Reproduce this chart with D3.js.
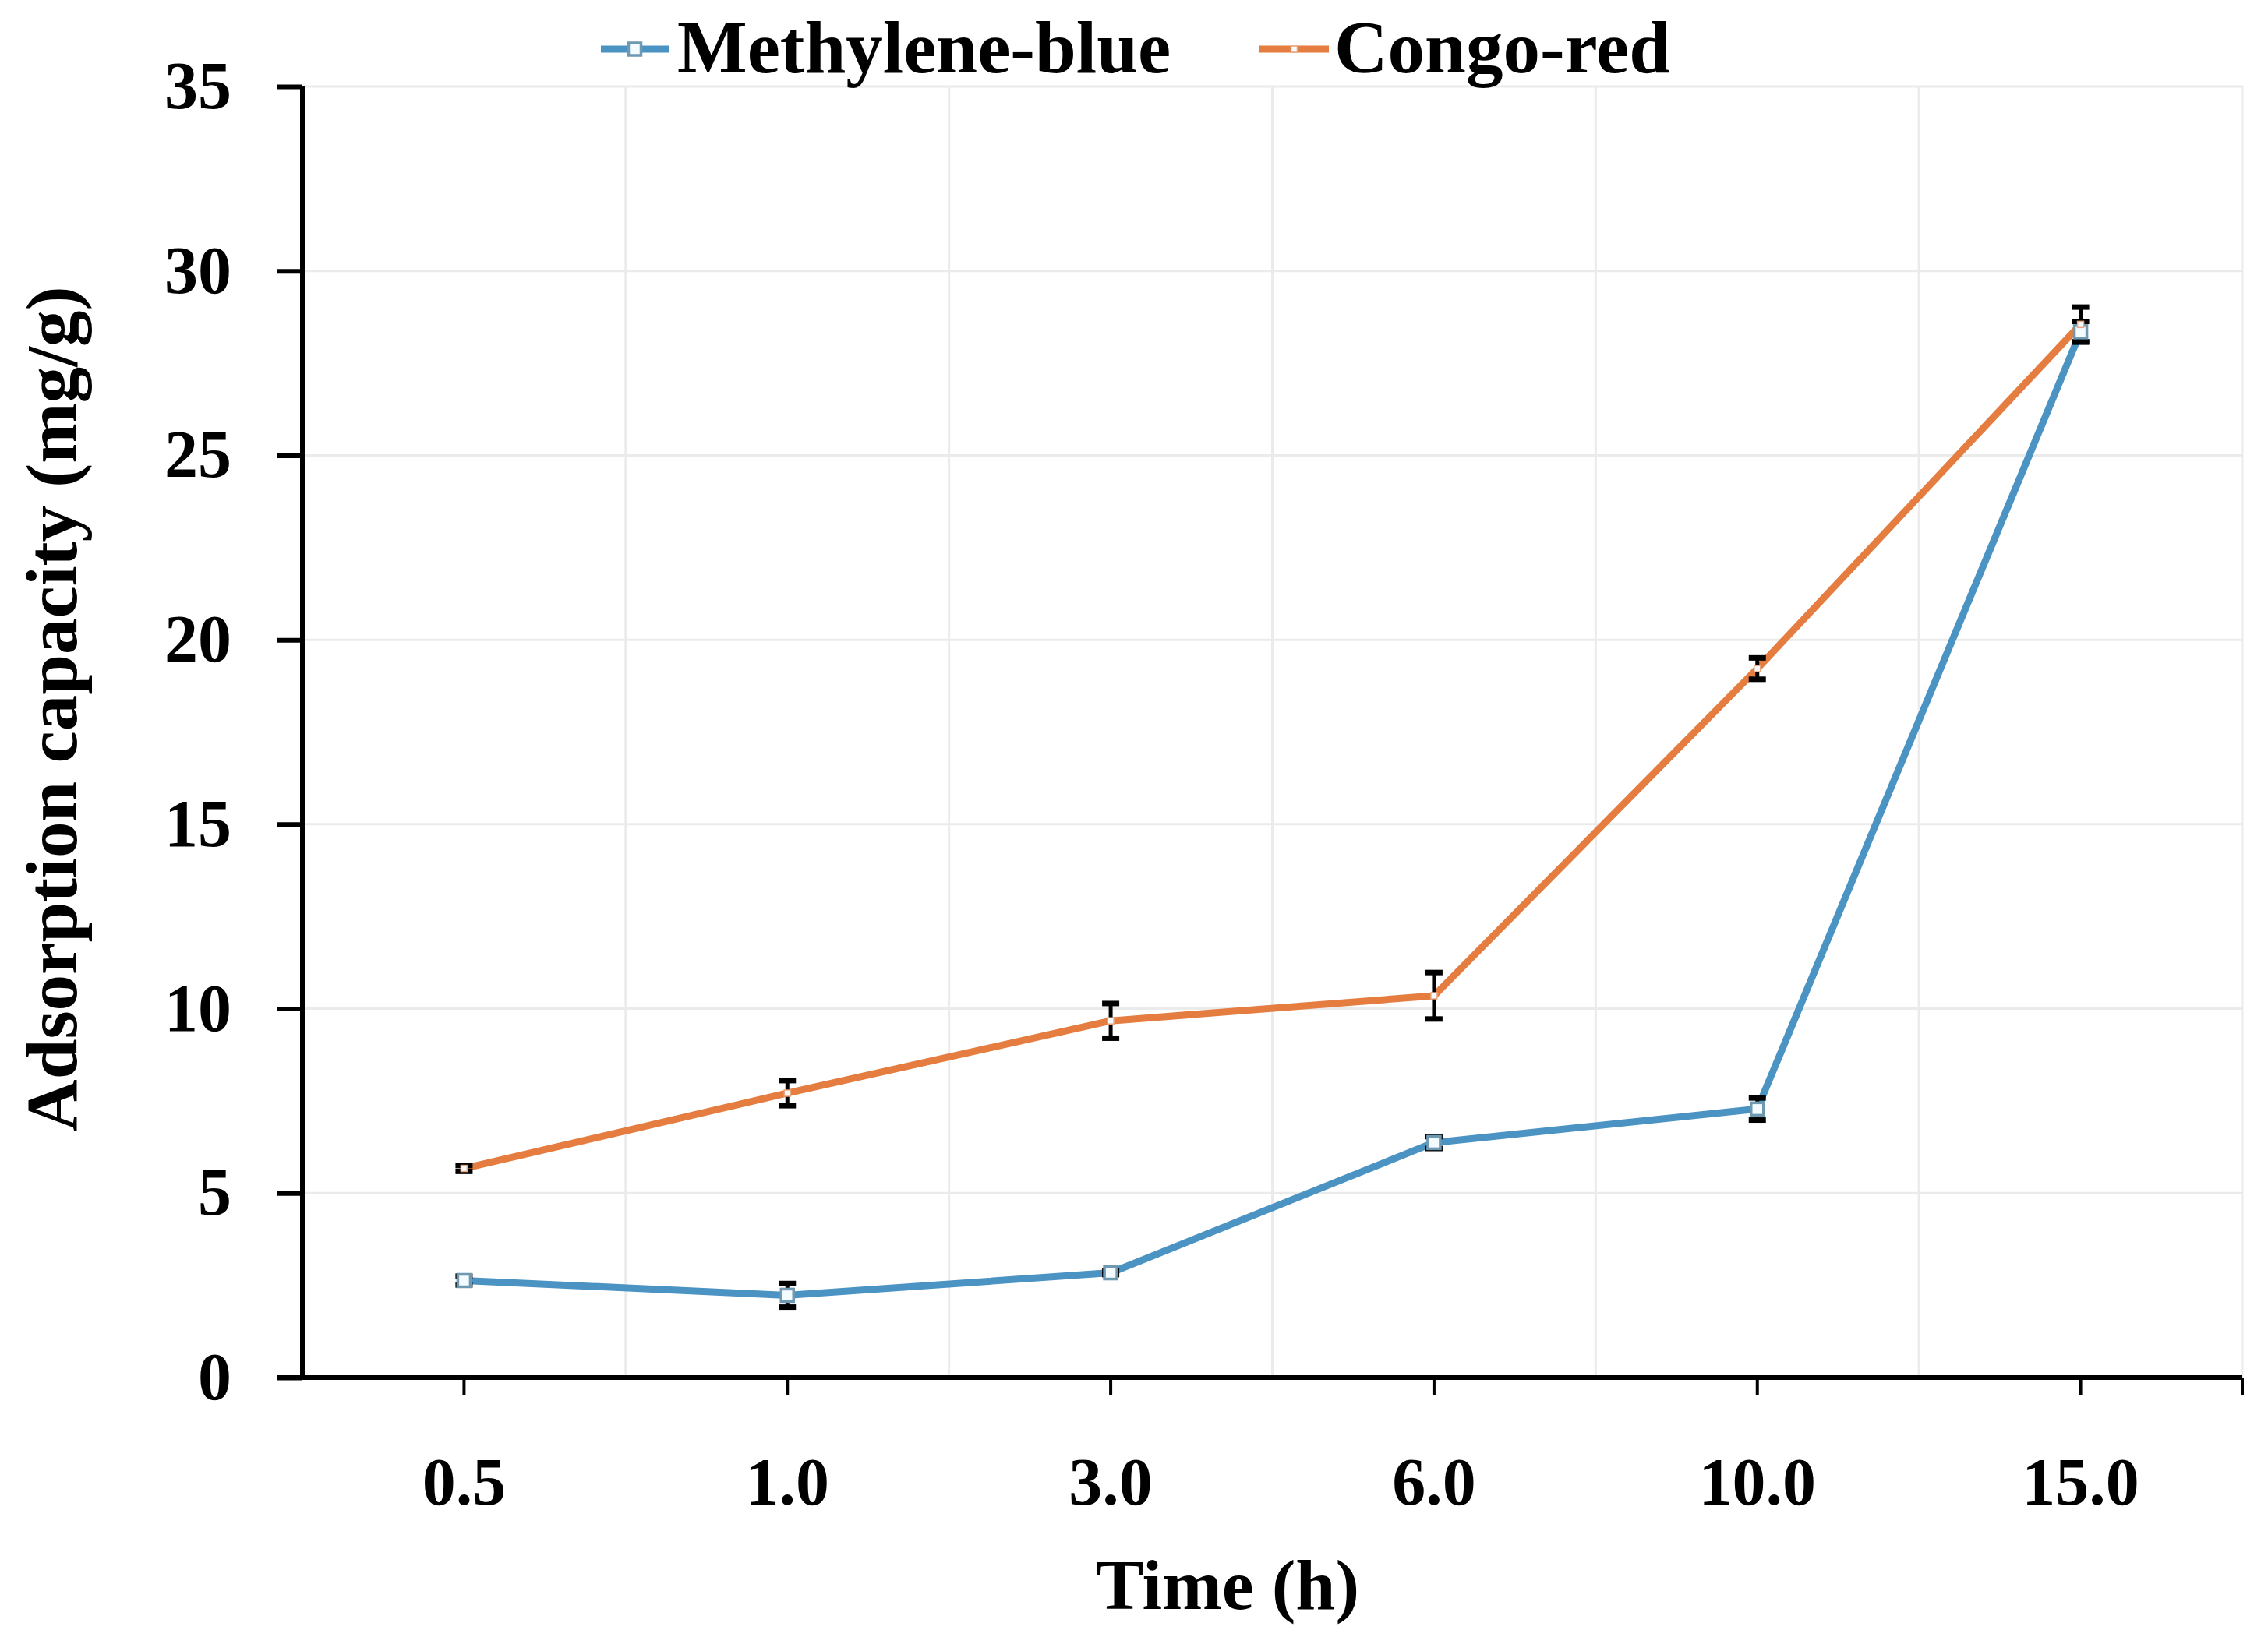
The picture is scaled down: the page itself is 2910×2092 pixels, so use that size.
<!DOCTYPE html>
<html>
<head>
<meta charset="utf-8">
<script src="https://cdn.jsdelivr.net/npm/d3@7"></script>
<style>
  html, body { margin: 0; padding: 0; background: #ffffff; }
  svg { display: block; }
  text { font-family: "Liberation Serif", "Times New Roman", serif; font-weight: bold; fill: #000; }
</style>
</head>
<body>
<svg id="chart" width="2910" height="2092"></svg>
<script>
// ---- data ----
const categories = ["0.5", "1.0", "3.0", "6.0", "10.0", "15.0"];
const seriesNames = ["Methylene-blue", "Congo-red"];
const methyleneBlue = [2.63, 2.23, 2.84, 6.37, 7.28, 28.35];
const methyleneBlueErr = [0.12, 0.32, 0.05, 0.16, 0.3, 0.28];
const congoRed = [5.67, 7.71, 9.67, 10.35, 19.22, 28.55];
const congoRedErr = [0.08, 0.34, 0.47, 0.63, 0.29, 0.47];
const yTicks = [0, 5, 10, 15, 20, 25, 30, 35];
const xTitle = "Time (h)";
const yTitle = "Adsorption capacity (mg/g)";

const colors = { "Methylene-blue": "#4a93c2", "Congo-red": "#e47d3f" };

const W = 2910, H = 2092;
const plotL = 388, plotR = 2877, plotT = 111, plotB = 1768;

const svg = d3.select("#chart");
svg.append("rect").attr("width", W).attr("height", H).attr("fill", "#fff");

const x = d3.scaleBand().domain(categories).range([plotL, plotR]).padding(0);
const y = d3.scaleLinear().domain([0, 35]).range([plotB, plotT]);
const cx = d => x(d) + x.bandwidth() / 2;

// gridlines
const grid = svg.append("g");
grid.selectAll("line.h").data(yTicks.filter(t => t > 0)).join("line")
  .attr("x1", plotL).attr("x2", plotR)
  .attr("y1", d => y(d)).attr("y2", d => y(d))
  .attr("stroke", "#ebebeb").attr("stroke-width", 3);
grid.selectAll("line.v").data(categories).join("line")
  .attr("x1", d => x(d) + x.bandwidth()).attr("x2", d => x(d) + x.bandwidth())
  .attr("y1", plotT).attr("y2", plotB)
  .attr("stroke", "#ebebeb").attr("stroke-width", 3);

// series
const series = [
  { name: seriesNames[0], values: methyleneBlue, err: methyleneBlueErr, marker: 16 },
  { name: seriesNames[1], values: congoRed, err: congoRedErr, marker: 8 }
];

const line = d3.line().x(d => cx(d.cat)).y(d => y(d.v));

series.forEach(s => {
  const pts = categories.map((c, i) => ({ cat: c, v: s.values[i], e: s.err[i] }));
  s.pts = pts;
  svg.append("path").datum(pts)
    .attr("d", line)
    .attr("fill", "none")
    .attr("stroke", colors[s.name])
    .attr("stroke-width", 9)
    .attr("stroke-linejoin", "round");
});

// error bars
series.forEach(s => {
  const g = svg.append("g");
  g.selectAll("line.stem").data(s.pts).join("line")
    .attr("x1", d => cx(d.cat)).attr("x2", d => cx(d.cat))
    .attr("y1", d => y(d.v - d.e)).attr("y2", d => y(d.v + d.e))
    .attr("stroke", "#000").attr("stroke-width", 5);
  ["top", "bot"].forEach(k => {
    g.selectAll("line.cap" + k).data(s.pts).join("line")
      .attr("x1", d => cx(d.cat) - 11).attr("x2", d => cx(d.cat) + 11)
      .attr("y1", d => y(k === "top" ? d.v + d.e : d.v - d.e))
      .attr("y2", d => y(k === "top" ? d.v + d.e : d.v - d.e))
      .attr("stroke", "#000").attr("stroke-width", 7);
  });
});

// markers
series.forEach(s => {
  svg.append("g").selectAll("rect").data(s.pts).join("rect")
    .attr("x", d => cx(d.cat) - s.marker / 2)
    .attr("y", d => y(d.v) - s.marker / 2)
    .attr("width", s.marker).attr("height", s.marker)
    .attr("fill", "#f4fbff")
    .attr("stroke", s.name === "Congo-red" ? "#eaa57c" : "#6f98b1")
    .attr("stroke-width", s.name === "Congo-red" ? 1.5 : 3.5);
});

// axes
const yAxis = d3.axisLeft(y).tickValues(yTicks).tickSize(33).tickPadding(58).tickFormat(d3.format("d"));
const gy = svg.append("g").attr("transform", `translate(${plotL},0)`).call(yAxis);
gy.select(".domain").attr("stroke", "#000").attr("stroke-width", 6).attr("d", `M0,${plotT}V${plotB}`);
gy.selectAll(".tick line").attr("stroke", "#000").attr("stroke-width", 6);
gy.selectAll(".tick text").attr("font-size", 86).attr("font-family", "Liberation Serif, serif").attr("font-weight", "bold").attr("fill", "#000");

const xAxis = d3.axisBottom(x).tickSize(22).tickPadding(80);
const gx = svg.append("g").attr("transform", `translate(0,${plotB})`).call(xAxis);
gx.select(".domain").attr("stroke", "#000").attr("stroke-width", 6).attr("d", `M${plotL - 33},0H${plotR}`);
gx.selectAll(".tick line").attr("stroke", "#000").attr("stroke-width", 4);
gx.selectAll(".tick text").attr("font-size", 86).attr("font-family", "Liberation Serif, serif").attr("font-weight", "bold").attr("fill", "#000");
gx.append("line").attr("x1", plotR).attr("x2", plotR).attr("y1", 0).attr("y2", 22)
  .attr("stroke", "#000").attr("stroke-width", 4);

// axis titles
svg.append("text").attr("x", 1575).attr("y", 2065).attr("text-anchor", "middle")
  .attr("font-size", 92).text(xTitle);
svg.append("text").attr("transform", "translate(98,910) rotate(-90)").attr("text-anchor", "middle")
  .attr("font-size", 93).text(yTitle);

// legend
const legend = [
  { name: seriesNames[0], x0: 771, x1: 858, tx: 869, marker: 16 },
  { name: seriesNames[1], x0: 1616, x1: 1705, tx: 1712, marker: 8 }
];
legend.forEach(l => {
  svg.append("line").attr("x1", l.x0).attr("x2", l.x1).attr("y1", 63).attr("y2", 63)
    .attr("stroke", colors[l.name]).attr("stroke-width", 9);
  const m = (l.x0 + l.x1) / 2;
  svg.append("rect").attr("x", m - l.marker / 2).attr("y", 63 - l.marker / 2)
    .attr("width", l.marker).attr("height", l.marker)
    .attr("fill", "#f4fbff")
    .attr("stroke", l.name === "Congo-red" ? "#eaa57c" : "#6f98b1")
    .attr("stroke-width", l.name === "Congo-red" ? 1.5 : 3.5);
  svg.append("text").attr("x", l.tx).attr("y", 93).attr("font-size", 95).text(l.name);
});
</script>
</body>
</html>
